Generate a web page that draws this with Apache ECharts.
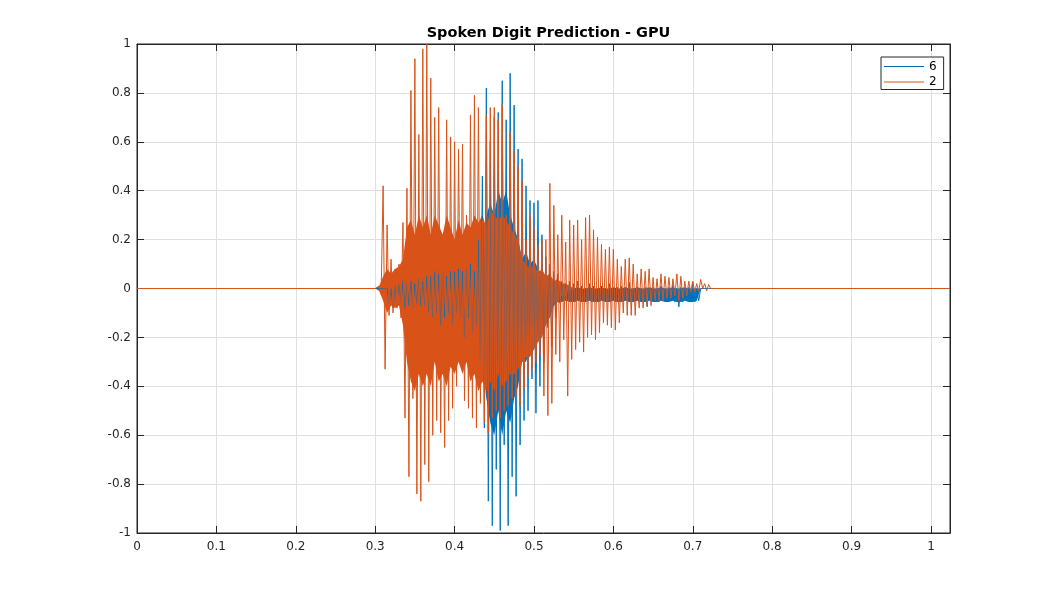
<!DOCTYPE html>
<html>
<head>
<meta charset="utf-8">
<script src="https://cdn.jsdelivr.net/npm/echarts@6/dist/echarts.min.js"></script>
<style>html,body{margin:0;padding:0;background:#fff}#c{width:1050px;height:600px}</style>
</head>
<body>
<div id="c"></div>
<script>
// Time base of the sampled waveform (seconds)
const T_START = 0.300;
const T_STEP = 0.0025;
const CORE_STEP = 0.005;
const T_END = 1.024;
const xTicks = [0, 0.1, 0.2, 0.3, 0.4, 0.5, 0.6, 0.7, 0.8, 0.9, 1];
const yTicks = [-1, -0.8, -0.6, -0.4, -0.2, 0, 0.2, 0.4, 0.6, 0.8, 1];
const seriesNames = ['6', '2'];

// Digit "6" waveform: alternating peak values
const six = [
  0, 0, 0, 0, 0, 0, 0.0, -0.06, 0.0, -0.08,
  0.01, -0.05, 0.02, -0.06, 0.03, -0.08, 0.02, -0.07, 0.03, -0.08,
  0.02, -0.06, 0.04, -0.07, 0.03, -0.07, 0.05, -0.1, 0.05, -0.12,
  0.07, -0.1, 0.06, -0.15, 0.07, -0.12, 0.05, -0.1, 0.07, -0.15,
  0.07, -0.1, 0.08, -0.12, 0.07, -0.2, 0.08, -0.12, 0.1, -0.18,
  0.07, -0.15, 0.2, -0.3, 0.46, -0.57, 0.82, -0.87, 0.6, -0.97,
  0.7, -0.74, 0.72, -0.99, 0.85, -0.64, 0.69, -0.97, 0.88, -0.77,
  0.75, -0.85, 0.57, -0.64, 0.53, -0.54, 0.42, -0.5, 0.36, -0.37,
  0.35, -0.51, 0.36, -0.4, 0.22, -0.3, 0.13, -0.16, 0.1, -0.24,
  0.07, -0.12, 0.06, -0.06, 0.03, -0.05, 0.02, -0.04, 0.03, -0.05,
  0.02, -0.055, 0.03, -0.05, 0.01, -0.055, 0.0, -0.05, 0.02, -0.055,
  0.01, -0.05, 0.0, -0.055, 0.01, -0.05, 0.0, -0.055, 0.02, -0.05,
  0.0, -0.055, 0.005, -0.05, 0.01, -0.055, 0.005, -0.05, 0.025, -0.055,
  0.0, -0.05, 0.005, -0.055, 0.0, -0.05, 0.005, -0.075, 0.0, -0.055,
  0.005, -0.05, 0.0, -0.055, 0.01, -0.05, 0.0, -0.055, 0.005, -0.05,
  0.015, -0.055, 0.0, -0.075, 0.005, -0.055, 0.0, -0.05, 0.005, -0.055,
  0.025, -0.055, 0.0, -0.05, 0, 0, 0, 0, 0, 0
];
// Digit "6" dense core (upper / lower edge of the solid-looking band), every 0.005 s from 0.30 s
const sixCoreHi = [
  0, 0, 0, 0, 0.01, 0.02, 0.01, 0.02, 0.02, 0.02,
  0.02, 0.02, 0.03, 0.02, 0.03, 0.04, 0.04, 0.05, 0.04, 0.05,
  0.05, 0.06, 0.05, 0.06, 0.07, 0.08, 0.1, 0.15, 0.3, 0.35,
  0.3, 0.4, 0.35, 0.4, 0.3, 0.25, 0.2, 0.12, 0.15, 0.1,
  0.12, 0.08, 0.06, 0.05, 0.04, 0.02, 0.005,
  0, 0.005, 0, 0, 0.005, 0, 0, 0.005, 0, 0,
  0.005, 0, 0, 0.005, 0, 0, 0.005, 0, 0, 0.005,
  0, 0, 0.005, 0, 0, 0.005, 0, 0, 0.005, 0,
  0, 0.005, 0, 0, 0, 0
];
const sixCoreLo = [
  0, 0, 0, -0.03, -0.05, -0.06, -0.05, -0.06, -0.06, -0.05,
  -0.06, -0.06, -0.06, -0.07, -0.08, -0.1, -0.08, -0.1, -0.1, -0.1,
  -0.12, -0.1, -0.12, -0.12, -0.14, -0.15, -0.18, -0.3, -0.45, -0.55,
  -0.6, -0.5, -0.6, -0.5, -0.55, -0.45, -0.4, -0.3, -0.3, -0.25,
  -0.2, -0.15, -0.12, -0.1, -0.12, -0.07, -0.055,
  -0.055, -0.05, -0.055, -0.055, -0.05, -0.055, -0.055, -0.05, -0.055, -0.055,
  -0.05, -0.055, -0.055, -0.05, -0.055, -0.055, -0.05, -0.055, -0.055, -0.05,
  -0.055, -0.055, -0.05, -0.055, -0.055, -0.05, -0.055, -0.055, -0.05, -0.055,
  -0.055, -0.05, -0.055, -0.055, -0.05, 0
];

// Digit "2" waveform: alternating peak values
const two = [
  0, 0, 0.01, -0.02, 0.42, -0.33, 0.26, -0.11, 0.12, -0.1,
  0.08, -0.08, 0.1, -0.12, 0.27, -0.53, 0.41, -0.77, 0.81, -0.45,
  0.94, -0.84, 0.63, -0.87, 0.98, -0.72, 1.0, -0.79, 0.86, -0.6,
  0.7, -0.54, 0.74, -0.59, 0.22, -0.65, 0.69, -0.54, 0.62, -0.49,
  0.6, -0.4, 0.57, -0.3, 0.59, -0.46, 0.3, -0.49, 0.71, -0.53,
  0.79, -0.57, 0.74, -0.47, 0.28, -0.55, 0.71, -0.59, 0.74, -0.53,
  0.74, -0.5, 0.69, -0.53, 0.75, -0.5, 0.3, -0.48, 0.64, -0.45,
  0.56, -0.44, 0.5, -0.48, 0.44, -0.41, 0.2, -0.36, 0.3, -0.33,
  0.25, -0.3, 0.18, -0.27, 0.2, -0.44, 0.2, -0.52, 0.43, -0.47,
  0.34, -0.27, 0.22, -0.3, 0.3, -0.21, 0.19, -0.44, 0.28, -0.29,
  0.26, -0.25, 0.28, -0.22, 0.2, -0.26, 0.29, -0.2, 0.3, -0.19,
  0.24, -0.21, 0.21, -0.18, 0.18, -0.14, 0.16, -0.15, 0.17, -0.16,
  0.16, -0.17, 0.12, -0.14, 0.09, -0.1, 0.12, -0.11, 0.125, -0.11,
  0.1, -0.11, 0.06, -0.08, 0.08, -0.08, 0.07, -0.07, 0.08, -0.07,
  0.045, -0.05, 0.04, -0.05, 0.06, -0.05, 0.05, -0.04, 0.045, -0.04,
  0.04, -0.03, 0.06, -0.05, 0.05, -0.04, 0.03, -0.03, 0.03, -0.015,
  0.03, -0.015, 0.02, -0.01, 0.037, 0.0, 0.02, -0.01, 0.016, 0
];
// Digit "2" dense core, every 0.005 s from 0.30 s
const twoCoreHi = [
  0, 0.01, 0.05, 0.08, 0.06, 0.08, 0.09, 0.12, 0.25, 0.28,
  0.22, 0.3, 0.25, 0.3, 0.22, 0.3, 0.26, 0.22, 0.3, 0.25,
  0.2, 0.28, 0.22, 0.27, 0.25, 0.3, 0.27, 0.3, 0.25, 0.32,
  0.3, 0.28, 0.3, 0.28, 0.25, 0.22, 0.2, 0.12, 0.1, 0.08,
  0.1, 0.06, 0.08, 0.05, 0.06, 0.03, 0.04, 0.02, 0.02, 0.01,
  0
];
const twoCoreLo = [
  0, -0.01, -0.05, -0.1, -0.07, -0.08, -0.07, -0.15, -0.3, -0.38,
  -0.42, -0.35, -0.4, -0.35, -0.4, -0.3, -0.38, -0.35, -0.4, -0.32,
  -0.35, -0.3, -0.35, -0.3, -0.38, -0.35, -0.42, -0.38, -0.42, -0.38,
  -0.42, -0.35, -0.4, -0.38, -0.35, -0.35, -0.33, -0.3, -0.28, -0.28,
  -0.25, -0.22, -0.2, -0.15, -0.12, -0.06, -0.05, -0.03, -0.03, -0.01,
  0
];

const COLORS = ['#0072BD', '#D95319'];

function toPoints(vals) {
  const pts = [[0, 0]];
  vals.forEach((v, i) => pts.push([T_START + i * T_STEP, v]));
  pts.push([T_END, 0]);
  return pts;
}
function coreData(hi, lo) {
  return hi.map((h, i) => [T_START + i * CORE_STEP, h, lo[i]]);
}
function bandSeries(name, hi, lo, color) {
  const d = coreData(hi, lo);
  return {
    name: name, type: 'custom', xAxisIndex: 0, yAxisIndex: 0, silent: true,
    data: d,
    encode: {x: 0, y: [1, 2]},
    renderItem: function (params, api) {
      if (params.dataIndex !== 0) return null;
      const top = d.map(p => api.coord([p[0], p[1]]));
      const bot = d.map(p => api.coord([p[0], p[2]])).reverse();
      return {type: 'polygon', shape: {points: top.concat(bot)}, style: {fill: color}};
    }
  };
}

const AX = '#262626';
const GRID = '#dfdfdf';
const FONT = 'DejaVu Sans';
const LEG_ICON = 'path://M0,0L0.01,0L0,0.01Z M0,4.5L40,4.5L40,5.5L0,5.5Z M39.99,10L40,10L40,9.99Z';

function isTick(v, list) { return list.some(t => Math.abs(t - v) < 1e-9); }

const chart = echarts.init(document.getElementById('c'), null, {renderer: 'canvas'});
chart.setOption({
  animation: false,
  backgroundColor: '#ffffff',
  title: {
    text: 'Spoken Digit Prediction - GPU',
    left: 543.5, textAlign: 'center', top: 21,
    textStyle: {fontFamily: FONT, fontSize: 14.5, fontWeight: 'bold', color: '#000'}
  },
  grid: {left: 137, right: 100, top: 44, bottom: 67, show: true, borderColor: AX, borderWidth: 1, backgroundColor: '#fff'},
  legend: {
    data: seriesNames.map(n => ({name: n, icon: LEG_ICON})),
    orient: 'vertical',
    left: 881, top: 57,
    itemWidth: 40, itemHeight: 10, itemGap: 3.5,
    padding: [3.5, 7, 1.5, 3],
    borderColor: AX, borderWidth: 1, backgroundColor: '#fff',
    textStyle: {fontFamily: FONT, fontSize: 12, color: '#000'}
  },
  xAxis: [{
    type: 'value', min: 0, max: T_END, interval: 0.1,
    axisLine: {show: true, onZero: false, lineStyle: {color: AX, width: 1}},
    axisTick: {show: true, inside: true, length: 7, lineStyle: {color: AX}},
    axisLabel: {fontFamily: FONT, fontSize: 12, color: AX, margin: 8,
      formatter: v => isTick(v, xTicks) ? String(+v.toFixed(1)) : ''},
    splitLine: {show: true, lineStyle: {color: GRID, width: 1}}
  }, {
    type: 'value', position: 'top', min: 0, max: T_END, interval: 0.1,
    axisLine: {show: true, onZero: false, lineStyle: {color: AX}},
    axisTick: {show: true, inside: true, length: 7, lineStyle: {color: AX}},
    axisLabel: {show: false}, splitLine: {show: false}
  }],
  yAxis: [{
    type: 'value', min: -1, max: 1, interval: 0.2,
    axisLine: {show: true, onZero: false, lineStyle: {color: AX, width: 1}},
    axisTick: {show: true, inside: true, length: 7, lineStyle: {color: AX}},
    axisLabel: {fontFamily: FONT, fontSize: 12, color: AX, margin: 6,
      formatter: v => isTick(v, yTicks) ? String(+v.toFixed(1)) : ''},
    splitLine: {show: true, lineStyle: {color: GRID, width: 1}}
  }, {
    type: 'value', position: 'right', min: -1, max: 1, interval: 0.2,
    axisLine: {show: true, onZero: false, lineStyle: {color: AX}},
    axisTick: {show: true, inside: true, length: 7, lineStyle: {color: AX}},
    axisLabel: {show: false}, splitLine: {show: false}
  }],
  series: [
    bandSeries('6 core', sixCoreHi, sixCoreLo, COLORS[0]),
    {
      name: seriesNames[0], type: 'line', data: toPoints(six),
      xAxisIndex: 0, yAxisIndex: 0,
      showSymbol: false, symbol: 'none', sampling: null,
      lineStyle: {color: COLORS[0], width: 1}, itemStyle: {color: COLORS[0]}
    },
    bandSeries('2 core', twoCoreHi, twoCoreLo, COLORS[1]),
    {
      name: seriesNames[1], type: 'line', data: toPoints(two),
      xAxisIndex: 0, yAxisIndex: 0,
      showSymbol: false, symbol: 'none', sampling: null,
      lineStyle: {color: COLORS[1], width: 1}, itemStyle: {color: COLORS[1]}
    }
  ]
});
</script>
</body>
</html>
